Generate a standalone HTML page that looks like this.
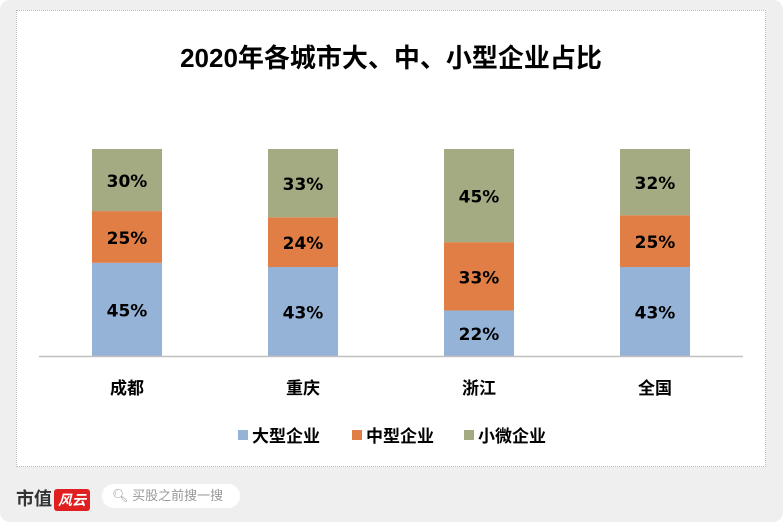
<!DOCTYPE html>
<html><head><meta charset="utf-8"><style>
body{margin:0;width:783px;height:522px;background:#fff;font-family:"Liberation Sans","Noto Sans CJK SC",sans-serif;overflow:hidden}
#outer{position:absolute;left:0;top:0;width:783px;height:522px;background:#efefef;border-radius:10px}
#panel{position:absolute;left:16px;top:10px;width:748px;height:455px;background:#fff;border:1px dotted #bbb}
#footer-logo{position:absolute;left:16px;top:485px;font-size:18px;font-weight:bold;color:#333}
#logo-red{display:inline-block;background:#e02020;color:#fff;font-size:14px;padding:1px 4px;border-radius:3px;margin-left:2px;font-style:italic}
#search{position:absolute;left:102px;top:484px;width:138px;height:24px;background:#fff;border-radius:12px;font-size:13px;color:#999;line-height:24px;padding-left:10px;box-sizing:border-box}
</style></head><body>
<div id="outer"></div>
<div id="panel"></div>
<svg id="chart" width="783" height="522" style="position:absolute;left:0;top:0"></svg>
<div id="footer-logo">市值<span id="logo-red">风云</span></div>
<div id="search">🔍︎ 买股之前搜一搜</div>
<script>
const categories=["成都","重庆","浙江","全国"];
const seriesNames=["大型企业","中型企业","小微企业"];
const large=[45,43,22,43];
const medium=[25,24,33,25];
const small=[30,33,45,32];
const colors=["#95b3d7","#e07e45","#a4ab83"];
const NS="http://www.w3.org/2000/svg";
const svg=document.getElementById('chart');
const base=356, H=207, x0=39, step=176, bw=70;
function y(v){return base-v/100*H;}
function xc(i){return x0+step*i+step/2;}
function mk(t,a,txt){const e=document.createElementNS(NS,t);for(const k in a)e.setAttribute(k,a[k]);if(txt!=null)e.textContent=txt;svg.appendChild(e);return e;}
const title=mk('text',{x:391,y:67,'text-anchor':'middle','font-size':26,'font-weight':'bold',fill:'#000'},'2020年各城市大、中、小型企业占比');


const series=[large,medium,small];
categories.forEach((c,i)=>{
  let cum=0;
  series.forEach((s,j)=>{
    const v=s[i];
    const r=mk('rect',{x:xc(i)-bw/2,y:y(cum+v),width:bw,height:y(cum)-y(cum+v),fill:colors[j]});
    
    
    const t=mk('text',{x:xc(i),y:(y(cum)+y(cum+v))/2+7,'text-anchor':'middle','font-size':17,'font-weight':'bold','font-family':'DejaVu Sans, sans-serif',fill:'#000'},v+'%');
    
    
    cum+=v;
  });
  const l=mk('text',{x:xc(i),y:394,'text-anchor':'middle','font-size':17,'font-weight':'bold',fill:'#000'},c);
  
  
});
const ax=mk('line',{x1:39,x2:743,y1:base+0.5,y2:base+0.5,stroke:'#bfbfbf','stroke-width':1.5});


const lx=[238,352,464];
seriesNames.forEach((n,j)=>{
  const r=mk('rect',{x:lx[j],y:430,width:10,height:10,fill:colors[j]});
  
  
  const t=mk('text',{x:lx[j]+14,y:442,'font-size':17,'font-weight':'bold',fill:'#000'},n);
  
  
});
</script>
</body></html>
